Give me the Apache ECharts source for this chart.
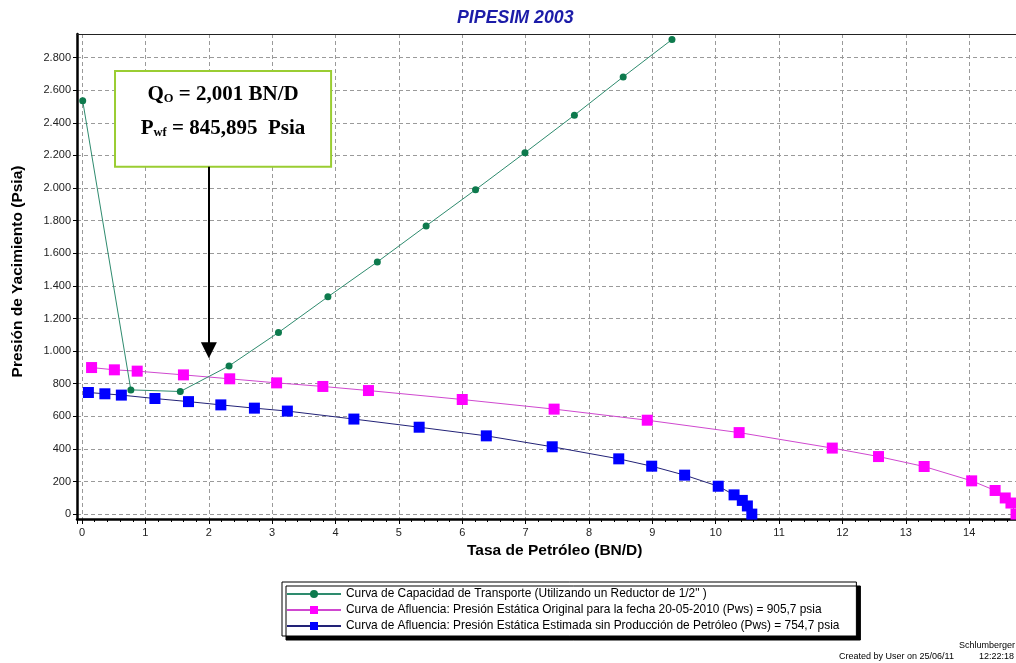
<!DOCTYPE html>
<html>
<head>
<meta charset="utf-8">
<title>PIPESIM 2003</title>
<script src="https://cdn.jsdelivr.net/npm/echarts@6/dist/echarts.min.js"></script>
<style>
  html, body { margin: 0; padding: 0; background: #fff; }
  #chart { width: 1016px; height: 663px; }
</style>
</head>
<body>
<div id="chart"></div>
<script>
// Curva de capacidad de transporte (reductor de 1/2")
const transQ = [0.01, 0.77, 1.55, 2.32, 3.10, 3.88, 4.66, 5.43, 6.21, 6.99, 7.77, 8.54, 9.31];
const transP = [2535, 762, 752, 909, 1114, 1333, 1547, 1768, 1990, 2217, 2447, 2682, 2911];

// Curva de afluencia, Pws = 905,7 psia
const iprOrigQ = [0.15, 0.51, 0.87, 1.60, 2.33, 3.07, 3.80, 4.52, 6.00, 7.45, 8.92, 10.37, 11.84, 12.57, 13.29, 14.04, 14.41, 14.57, 14.66, 14.74];
const iprOrigP = [899, 885, 877, 854, 830, 805, 783, 758, 703, 644, 576, 500, 405, 353, 292, 204, 145, 99, 68, 0];

// Curva de afluencia, Pws = 754,7 psia
const iprEstQ = [0.10, 0.36, 0.62, 1.15, 1.68, 2.19, 2.72, 3.24, 4.29, 5.32, 6.38, 7.42, 8.47, 8.99, 9.51, 10.04, 10.29, 10.42, 10.50, 10.57];
const iprEstP = [746, 738, 730, 709, 690, 670, 650, 632, 583, 533, 480, 413, 339, 294, 239, 171, 118, 84, 50, 0];

const seriesNames = [
  'Curva de Capacidad de Transporte (Utilizando un Reductor de 1/2" )',
  'Curva de Afluencia: Presión Estática Original para la fecha 20-05-2010 (Pws) = 905,7 psia',
  'Curva de Afluencia: Presión Estática Estimada sin Producción de Petróleo (Pws) = 754,7 psia'
];

// Punto de operación
const opRate = 2.001;
const opPwf = 845.895;

const zip = (xs, ys) => xs.map((x, i) => [x, ys[i]]);
const thousands = v => String(Math.round(v)).replace(/\B(?=(\d{3})+(?!\d))/g, '.');

const FONT = 'Liberation Sans, Arial, sans-serif';
const SERIF = 'Liberation Serif, Times New Roman, serif';
const gridDash = { color: '#9a9a9a', width: 1, type: [4, 3] };

const chart = echarts.init(document.getElementById('chart'), null, { renderer: 'canvas' });

chart.setOption({
  animation: false,
  backgroundColor: '#fff',
  title: {
    text: 'PIPESIM 2003',
    left: 457,
    top: 9,
    padding: 0,
    textStyle: { color: '#1c1ca8', fontSize: 17.8, fontWeight: 'bold', fontStyle: 'italic', fontFamily: FONT }
  },
  grid: { left: 77, top: 34, width: 955.5, bottom: 144, containLabel: false, outerBoundsMode: 'none' },
  xAxis: [{
    type: 'value',
    min: -0.08,
    max: 15,
    splitNumber: 15,
    name: 'Tasa de Petróleo (BN/D)',
    nameLocation: 'middle',
    nameGap: 22,
    nameTextStyle: { color: '#000', fontSize: 15.5, fontWeight: 'bold', fontFamily: FONT },
    axisLine: { show: true, onZero: false, lineStyle: { color: '#000', width: 2.5 } },
    axisTick: { show: true, length: 5, lineStyle: { color: '#000' } },
    minorTick: { show: true, splitNumber: 5, length: 3, lineStyle: { color: '#000' } },
    axisLabel: { showMinLabel: false, showMaxLabel: false, color: '#222', fontSize: 11, fontFamily: FONT, margin: 8 },
    splitLine: { show: true, lineStyle: gridDash }
  }, {
    type: 'value',
    position: 'top',
    min: -0.08,
    max: 15,
    axisLine: { show: true, onZero: false, lineStyle: { color: '#222', width: 1.2 } },
    axisTick: { show: false },
    axisLabel: { show: false },
    splitLine: { show: false }
  }],
  yAxis: {
    type: 'value',
    min: -30,
    max: 2945,
    splitNumber: 15,
    name: 'Presión de Yacimiento (Psia)',
    nameLocation: 'middle',
    nameGap: 51,
    nameTextStyle: { color: '#000', fontSize: 15.5, fontWeight: 'bold', fontFamily: FONT, padding: [0, 0, 0, 10] },
    axisLine: { show: true, onZero: false, lineStyle: { color: '#000', width: 2.5 } },
    axisTick: { show: true, length: 4, lineStyle: { color: '#000' } },
    axisLabel: { showMinLabel: false, showMaxLabel: false, color: '#222', fontSize: 11, fontFamily: FONT, margin: 6, formatter: thousands },
    splitLine: { show: true, lineStyle: gridDash }
  },
  legend: {
    orient: 'vertical',
    left: 282,
    top: 582,
    data: seriesNames,
    itemWidth: 54,
    itemHeight: 10,
    itemGap: 4,
    padding: [6, 17, 4, 4],
    backgroundColor: '#fff',
    borderColor: '#000',
    borderWidth: 1,
    shadowColor: '#000',
    shadowBlur: 0,
    shadowOffsetX: 4,
    shadowOffsetY: 4,
    selectedMode: false,
    textStyle: { color: '#000', fontSize: 11.9, fontFamily: FONT, padding: [0, 0, 0, 0] }
  },
  series: [{
    name: seriesNames[0],
    type: 'line',
    data: zip(transQ, transP),
    symbol: 'circle',
    symbolSize: 7,
    lineStyle: { color: '#2e8b6e', width: 1 },
    itemStyle: { color: '#0d7a4d' },
    z: 4,
    // Recuadro con el punto de operación
    markArea: {
      silent: true,
      itemStyle: { color: '#fff', borderColor: '#9acd32', borderWidth: 2 },
      label: {
        show: true,
        position: 'inside',
        offset: [0, -7],
        formatter: '{q|Q}{qs|O}{q| = 2,001 BN/D}\n{q|P}{qs|wf}{q| = 845,895  Psia}',
        rich: {
          q: { fontFamily: SERIF, fontWeight: 'bold', fontSize: 21, color: '#000', lineHeight: 34 },
          qs: { fontFamily: SERIF, fontWeight: 'bold', fontSize: 12.5, color: '#000', verticalAlign: 'middle', padding: [7, 0, 0, 0] }
        }
      },
      data: [[{ coord: [0.52, 2718] }, { coord: [3.93, 2131] }]]
    },
    // Flecha hacia el punto de operación
    markLine: {
      silent: true,
      symbol: ['none', 'triangle'],
      symbolSize: 16,
      label: { show: false },
      lineStyle: { color: '#000', width: 2, type: 'solid' },
      itemStyle: { color: '#000' },
      emphasis: { disabled: true },
      data: [[{ coord: [opRate, 2131] }, { coord: [opRate, 1005] }]]
    }
  }, {
    name: seriesNames[1],
    type: 'line',
    data: zip(iprOrigQ, iprOrigP),
    symbol: 'rect',
    symbolSize: 11,
    lineStyle: { color: '#cf48cf', width: 1 },
    itemStyle: { color: '#ff00ff' },
    z: 3
  }, {
    name: seriesNames[2],
    type: 'line',
    data: zip(iprEstQ, iprEstP),
    symbol: 'rect',
    symbolSize: 11,
    lineStyle: { color: '#222277', width: 1 },
    itemStyle: { color: '#0000ff' },
    z: 3
  }],
  graphic: [{
    type: 'text',
    right: 1,
    top: 641,
    style: { text: 'Schlumberger', font: '9px ' + FONT, fill: '#000' }
  }, {
    type: 'text',
    left: 839,
    top: 652,
    style: { text: 'Created by User on 25/06/11          12:22:18', font: '9px ' + FONT, fill: '#000' }
  }]
});
</script>
</body>
</html>
